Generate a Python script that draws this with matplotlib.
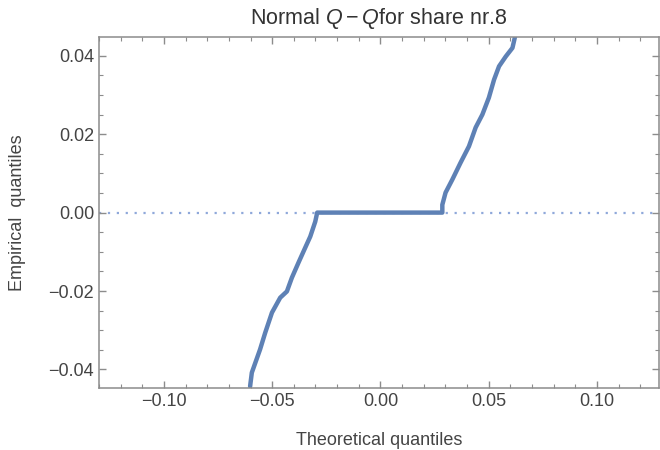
import matplotlib.pyplot as plt
from matplotlib.ticker import MultipleLocator

plt.rcParams['font.family'] = ['Liberation Sans', 'DejaVu Sans']
plt.rcParams['mathtext.fontset'] = 'custom'
plt.rcParams['mathtext.it'] = 'Liberation Sans:italic'
plt.rcParams['mathtext.rm'] = 'Liberation Sans'

# points (theoretical, empirical)
theo = [-0.0602, -0.0594, -0.0556, -0.0532, -0.0501, -0.0463, -0.0432,
        -0.0409, -0.0378, -0.0347, -0.0324, -0.0301, -0.0292,
        0.0286, 0.0286, 0.0301, 0.0332, 0.0370, 0.0409, 0.0440, 0.0471,
        0.0501, 0.0525, 0.0548, 0.0579, 0.0610, 0.0622]
emp = [-0.0443, -0.0408, -0.0349, -0.0306, -0.0255, -0.0217, -0.0201,
       -0.0166, -0.0127, -0.0089, -0.0061, -0.0023, 0.0,
       0.0, 0.0020, 0.0051, 0.0084, 0.0127, 0.0169, 0.0217, 0.0250,
       0.0293, 0.0339, 0.0373, 0.0398, 0.0420, 0.0449]

xticks = [-0.10, -0.05, 0.00, 0.05, 0.10]
yticks = [-0.04, -0.02, 0.00, 0.02, 0.04]

pt_col = '#5E81B5'
frame_col = '#8C8C8C'
txt_col = '#444444'


def fmt(v):
    return ('%.2f' % v).replace('-', '\u2212')


fig = plt.figure(figsize=(6.6, 4.5), dpi=100)
ax = fig.add_axes([0.15, 0.138, 0.8485, 0.78])

ax.axhline(0, color='#8FA8DA', lw=1.6, ls=(0, (1, 3)), zorder=1)
ax.plot(theo, emp, color=pt_col, lw=3.2, solid_capstyle='round',
        solid_joinstyle='round', zorder=2)

ax.set_xlim(-0.13, 0.1287)
ax.set_ylim(-0.0447, 0.0448)
ax.set_xticks(xticks)
ax.set_xticklabels([fmt(v) for v in xticks])
ax.set_yticks(yticks)
ax.set_yticklabels([fmt(v) for v in yticks])
ax.xaxis.set_minor_locator(MultipleLocator(0.01))
ax.yaxis.set_minor_locator(MultipleLocator(0.005))

for s in ax.spines.values():
    s.set_color(frame_col)
    s.set_linewidth(1.1)
ax.tick_params(which='both', direction='in', top=True, right=True,
               color=frame_col, labelcolor=txt_col, labelsize=13)
ax.tick_params(which='major', length=5, width=1)
ax.tick_params(which='minor', length=3, width=0.8)

ax.set_title(r'Normal $Q-Q$for share nr.8', fontsize=15.5, color='#333333', pad=9)
ax.set_xlabel('Theoretical quantiles', fontsize=13, color=txt_col, labelpad=16)
ax.set_ylabel('Empirical  quantiles', fontsize=13, color=txt_col, labelpad=16)

fig.savefig('out.png', dpi=100)
